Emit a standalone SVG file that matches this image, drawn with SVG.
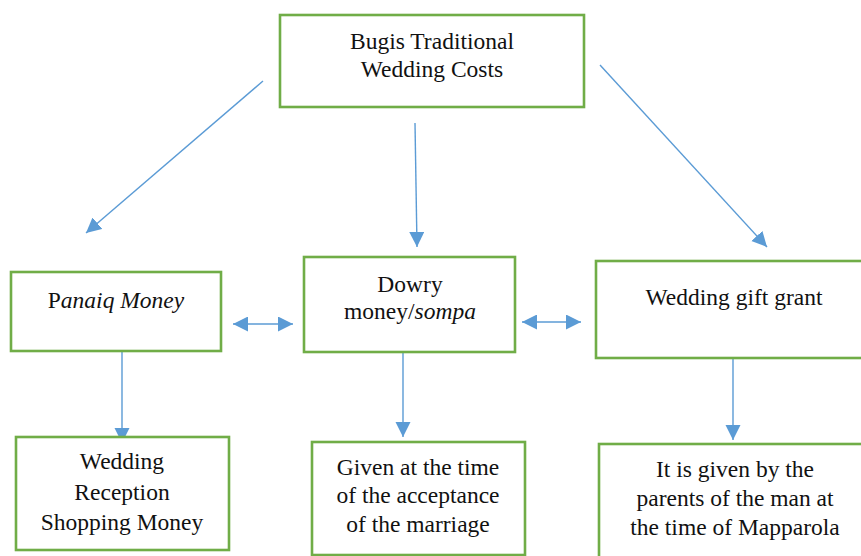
<svg xmlns="http://www.w3.org/2000/svg" width="861" height="556" viewBox="0 0 861 556">
<style>
.box{fill:#fff;stroke:#70AD47;stroke-width:2.6}
.t{font-family:"Liberation Serif","Times New Roman",serif;font-size:23.5px;fill:#111;text-anchor:middle}
.c{stroke:#5B9BD5;stroke-width:1.4;fill:none}
</style>
<defs>
<marker id="ah" markerUnits="userSpaceOnUse" markerWidth="16" markerHeight="16" refX="15" refY="7.5" orient="auto">
<path d="M0,0 L15,7.5 L0,15 z" fill="#5B9BD5"/>
</marker>
<marker id="as" markerUnits="userSpaceOnUse" markerWidth="16" markerHeight="16" refX="0" refY="7.5" orient="auto">
<path d="M15,0 L0,7.5 L15,15 z" fill="#5B9BD5"/>
</marker>
</defs>
<rect width="861" height="556" fill="#fff"/>
<g id="connectors">
<line class="c" x1="263" y1="81" x2="86" y2="233" marker-end="url(#ah)"/>
<line class="c" x1="415" y1="123" x2="417" y2="247" marker-end="url(#ah)"/>
<line class="c" x1="600" y1="65" x2="767" y2="247" marker-end="url(#ah)"/>
<line class="c" x1="233" y1="324" x2="293" y2="324" marker-start="url(#as)" marker-end="url(#ah)"/>
<line class="c" x1="522" y1="322" x2="581" y2="322" marker-start="url(#as)" marker-end="url(#ah)"/>
<line class="c" x1="122" y1="351" x2="122" y2="443" marker-end="url(#ah)"/>
<line class="c" x1="403" y1="352" x2="403" y2="437" marker-end="url(#ah)"/>
<line class="c" x1="733" y1="358" x2="733" y2="440" marker-end="url(#ah)"/>
</g>
<g id="node-top">
<rect class="box" x="280" y="15" width="304" height="92"/>
<text class="t" x="432" y="49">Bugis Traditional</text>
<text class="t" x="432" y="77">Wedding Costs</text>
</g>
<g id="node-panaiq">
<rect class="box" x="11" y="272" width="210" height="79"/>
<text class="t" x="116" y="308">P<tspan font-style="italic">anaiq Money</tspan></text>
</g>
<g id="node-dowry">
<rect class="box" x="304" y="257" width="211" height="95"/>
<text class="t" x="410" y="292">Dowry</text>
<text class="t" x="410" y="319">money/<tspan font-style="italic">sompa</tspan></text>
</g>
<g id="node-gift">
<rect class="box" x="596" y="261" width="280" height="97"/>
<text class="t" x="734" y="305">Wedding gift grant</text>
</g>
<g id="node-reception">
<rect class="box" x="16" y="437" width="213" height="113"/>
<text class="t" x="122" y="469">Wedding</text>
<text class="t" x="122" y="500">Reception</text>
<text class="t" x="122" y="530">Shopping Money</text>
</g>
<g id="node-given">
<rect class="box" x="312" y="442" width="213" height="113"/>
<text class="t" x="418" y="475">Given at the time</text>
<text class="t" x="418" y="503">of the acceptance</text>
<text class="t" x="418" y="532">of the marriage</text>
</g>
<g id="node-parents">
<rect class="box" x="599" y="444" width="280" height="120"/>
<text class="t" x="735" y="477">It is given by the</text>
<text class="t" x="735" y="506">parents of the man at</text>
<text class="t" x="735" y="535">the time of Mapparola</text>
</g>
</svg>
